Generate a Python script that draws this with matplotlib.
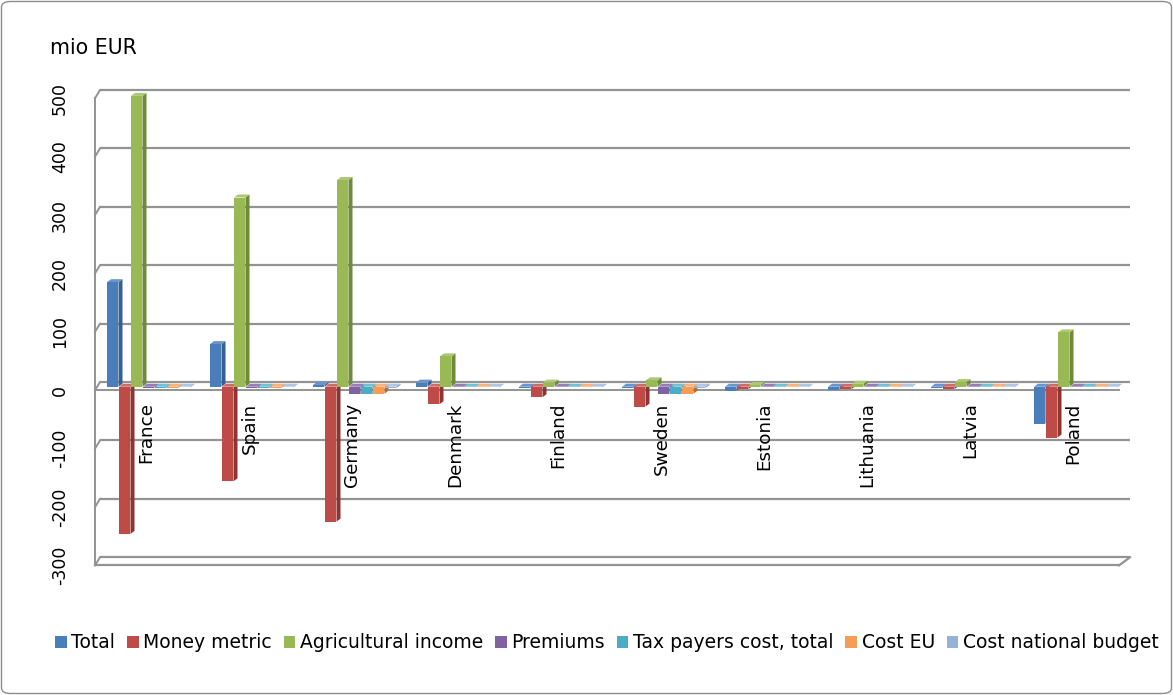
import matplotlib
matplotlib.use("Agg")
import matplotlib.pyplot as plt
from matplotlib.patches import Polygon, Patch, FancyBboxPatch
import matplotlib.transforms as mtransforms

plt.rcParams['font.family'] = ['DejaVu Sans']

# ---------------- data ----------------
countries = ["France", "Spain", "Germany", "Denmark", "Finland", "Sweden",
             "Estonia", "Lithuania", "Latvia", "Poland"]
series_names = ["Total", "Money metric", "Agricultural income", "Premiums",
                "Tax payers cost, total", "Cost EU", "Cost national budget"]
total = [179, 73, 3, 7, -3, -3, -7, -5, -2, -63]
money_metric = [-252, -162, -231, -30, -18, -34, -4, -4, -4, -87]
agricultural_income = [498, 324, 354, 52, 7, 11, 3, 5, 8, 93]
premiums = [-2, -2, -13, -1, -1, -12, -1, -1, -1, -1]
tax_payers_cost = [-2, -2, -13, -1, -1, -13, -1, -1, -1, -1]
cost_eu = [-2, -2, -12, -1, -1, -12, -1, -1, -1, -1]
cost_national = [-1, -1, -2, -1, -1, -2, -1, -1, -1, -1]
y_ticks = [500, 400, 300, 200, 100, 0, -100, -200, -300]

series_values = [total, money_metric, agricultural_income, premiums,
                 tax_payers_cost, cost_eu, cost_national]
front_colors = ["#4A7EBB", "#BE4B48", "#98B954", "#7E62A1", "#4AACC5", "#F59D56", "#95B3D7"]
side_colors = ["#35608F", "#8C3533", "#6E8A3A", "#5A4677", "#347F97", "#B8702F", "#6C87A8"]
top_colors = ["#6A95CC", "#CC6C69", "#ADC872", "#957DB5", "#72C0D5", "#F8B37C", "#B0C7E3"]

# ---------------- figure ----------------
W, H = 1173, 695
fig = plt.figure(figsize=(W / 100, H / 100), dpi=100)
ax = fig.add_axes([90 / W, 1 - 575 / H, 1050 / W, 495 / H])
ax.set_xlim(-0.5728, 9.6214)
ax.set_ylim(-322.4, 525.2)
ax.axis('off')

PX_X = 103.0      # px per category unit
PX_Y = 0.584      # px per value unit


def px_x(p):
    return (p - 149) / PX_X


grid_c = "#939393"
back_dy = 8.0
front_dy = -6.0
xf, xb = px_x(95), px_x(100)
xrb, xrf = px_x(1130), px_x(1119)
for v in y_ticks:
    ax.plot([xb, xrb], [v + back_dy, v + back_dy], color=grid_c, lw=1.6, zorder=1,
            solid_capstyle='butt')
    ax.plot([xf, xb], [v + front_dy, v + back_dy], color=grid_c, lw=1.4, zorder=1)
ax.plot([xf, xrf], [0 + front_dy, 0 + front_dy], color=grid_c, lw=1.4, zorder=1)
ax.plot([xf, xrf], [-300 + front_dy, -300 + front_dy], color=grid_c, lw=1.6, zorder=1)
ax.plot([xrf, xrb], [-300 + front_dy, -300 + back_dy], color=grid_c, lw=1.6, zorder=1)
ax.plot([xf, xf], [-300 + front_dy, 500 + front_dy], color=grid_c, lw=1.4, zorder=1)

# ---------------- bars (pseudo 3D) ----------------
slot = 12 / PX_X
bw = 11.5 / PX_X
ddx = 4 / PX_X
ddy = 3 / PX_Y
n = len(series_names)
z = 3.0
for i, c in enumerate(countries):
    for j in range(n):
        v = series_values[j][i]
        x0 = i - n * slot / 2 + j * slot
        lo, hi = min(0, v), max(0, v)
        side = Polygon([(x0 + bw, lo), (x0 + bw + ddx, lo + ddy),
                        (x0 + bw + ddx, hi + ddy), (x0 + bw, hi)],
                       closed=True, facecolor=side_colors[j], edgecolor='none', zorder=z)
        top = Polygon([(x0, hi), (x0 + ddx, hi + ddy), (x0 + bw + ddx, hi + ddy),
                       (x0 + bw, hi)], closed=True, facecolor=top_colors[j],
                      edgecolor='none', zorder=z + 0.001)
        ax.add_patch(side)
        ax.add_patch(top)
        ax.bar([x0], [v], width=bw, align='edge', color=front_colors[j],
               edgecolor='none', zorder=z + 0.002)
        z += 0.01

# ---------------- texts ----------------
blend = mtransforms.blended_transform_factory(fig.transFigure, ax.transData)
for v in y_ticks:
    ax.text(60 / W, v + front_dy, str(v), transform=blend, rotation=90,
            ha='center', va='center', fontsize=12.5, color='black')

for i, c in enumerate(countries):
    ax.text(i - 2.5 / PX_X, -27, c, rotation=90, ha='center', va='top',
            fontsize=13.2, color='black', zorder=10)

fig.text(50 / W, 1 - 54 / H, "mio EUR", ha='left', va='baseline', fontsize=14.8)

handles = [Patch(facecolor=front_colors[j], edgecolor='none') for j in range(n)]
fig.legend(handles, series_names, loc='center', bbox_to_anchor=(607 / W, 1 - 643 / H),
           ncol=n, frameon=False, fontsize=13.5, handlelength=0.62, handleheight=0.62,
           handletextpad=0.26, columnspacing=0.62, borderpad=0, borderaxespad=0)

border = FancyBboxPatch((1.5 / W, 1.5 / H), (W - 3) / W, (H - 3) / H,
                        boxstyle="round,pad=0,rounding_size=0.008",
                        transform=fig.transFigure, facecolor='none',
                        edgecolor='#8C8C8C', lw=1.0)
fig.patches.append(border)

fig.savefig("out.png", dpi=100)
